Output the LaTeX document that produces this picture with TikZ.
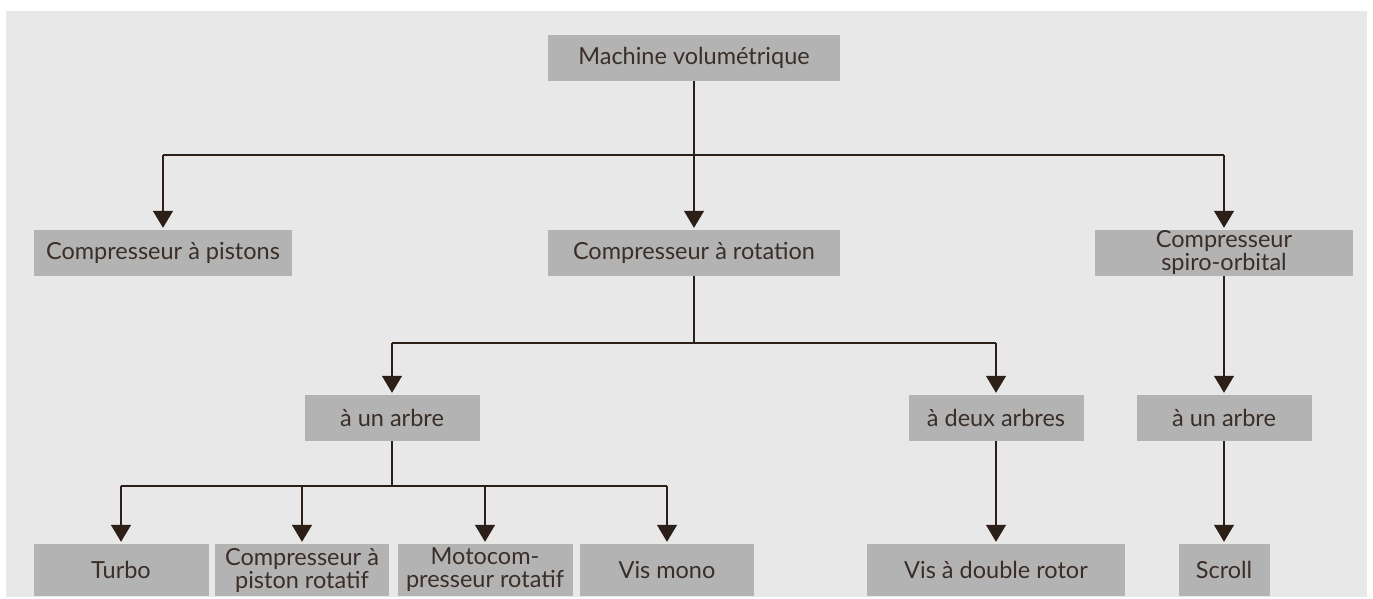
\documentclass[tikz,border=0pt]{standalone}
\usepackage{fontspec}
\setmainfont{Lato}
\usetikzlibrary{arrows.meta}
\definecolor{bggray}{HTML}{E8E8E8}
\definecolor{boxgray}{HTML}{B3B3B3}
\definecolor{txtcol}{HTML}{3A2E28}
\definecolor{linecol}{HTML}{2B1F17}
\tikzset{
  box/.style={fill=boxgray, text=txtcol, inner sep=0pt, align=center,
    minimum height=46pt, font=\fontsize{23.5}{23}\selectfont},
  lowbox/.style={box, minimum height=52pt},
  conn/.style={draw=linecol, line width=1.4pt},
  arr/.style={conn, -{Triangle[width=20pt,length=17pt]}, shorten >=2pt}
}
\begin{document}
\begin{tikzpicture}[x=1pt,y=-1pt]
\useasboundingbox (0,0) rectangle (1373,599);
\fill[bggray] (6,11) rectangle (1367,597);
% nodes
\node[box, minimum width=292pt] (mv) at (694,58) {Machine volumétrique};
\node[box, minimum width=258pt] (cp) at (163,253) {Compresseur à pistons};
\node[box, minimum width=292pt] (cr) at (694,253) {Compresseur à rotation};
\node[box, minimum width=258pt] (cs) at (1224,253) {Compresseur\\spiro-orbital};
\node[box, minimum width=175pt] (a1) at (392,418) {à un arbre};
\node[box, minimum width=175pt] (a2) at (996,418) {à deux arbres};
\node[box, minimum width=175pt] (a3) at (1224,418) {à un arbre};
\node[lowbox, minimum width=175pt] (turbo) at (121,570) {Turbo};
\node[lowbox, minimum width=174pt] (pr) at (302,570) {Compresseur à\\piston rotatif};
\node[lowbox, minimum width=175pt] (moto) at (485,570) {Motocom-\\presseur rotatif};
\node[lowbox, minimum width=174pt] (vm) at (667,570) {Vis mono};
\node[lowbox, minimum width=258pt] (vd) at (996,570) {Vis à double rotor};
\node[lowbox, minimum width=91pt] (scroll) at (1224,570) {Scroll};
% buses
\coordinate (b1) at (694,155);
\coordinate (b2) at (694,343);
\coordinate (b3) at (392,486);
\draw[conn] (mv.south) -- (b1);
\draw[conn] (b1 -| cp.north) -- (b1 -| cs.north);
\draw[arr] (b1 -| cp.north) -- (cp.north);
\draw[arr] (b1) -- (cr.north);
\draw[arr] (b1 -| cs.north) -- (cs.north);
\draw[conn] (cr.south) -- (b2);
\draw[conn] (b2 -| a1.north) -- (b2 -| a2.north);
\draw[arr] (b2 -| a1.north) -- (a1.north);
\draw[arr] (b2 -| a2.north) -- (a2.north);
\draw[arr] (cs.south) -- (a3.north);
\draw[conn] (a1.south) -- (b3);
\draw[conn] (b3 -| turbo.north) -- (b3 -| vm.north);
\draw[arr] (b3 -| turbo.north) -- (turbo.north);
\draw[arr] (b3 -| pr.north) -- (pr.north);
\draw[arr] (b3 -| moto.north) -- (moto.north);
\draw[arr] (b3 -| vm.north) -- (vm.north);
\draw[arr] (a2.south) -- (vd.north);
\draw[arr] (a3.south) -- (scroll.north);
\end{tikzpicture}
\end{document}
